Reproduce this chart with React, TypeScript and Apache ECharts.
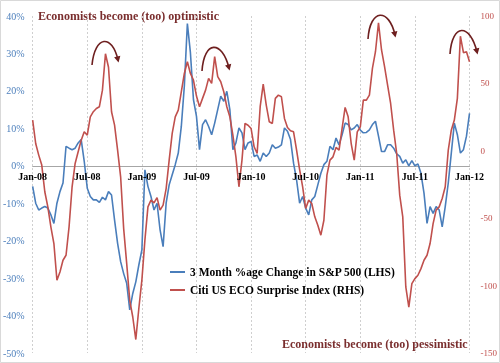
import React, { useEffect, useRef } from "react";
import * as echarts from "echarts";

// Sampling: one value every 1/3 month, starting Jan-08
const STEP = 1 / 3;

const xTickLabels = ["Jan-08", "Jul-08", "Jan-09", "Jul-09", "Jan-10", "Jul-10", "Jan-11", "Jul-11", "Jan-12"];

const sp500Change = [
  -5.5, -10, -11.8, -11.3, -10.9, -11.3, -13.1, -15.4, -10, -6.9,
  -4.6, 5.2, 4.7, 4.3, 4.7, 6.1, 7, 1.2, -6, -8.2,
  -9.1, -9.1, -9.8, -8.4, -9.1, -6.9, -7.8, -14.5, -20.7, -25.6,
  -28.8, -31.4, -38.5, -34.1, -31, -26.5, -22.5, -1.1, -5.5, -8.2,
  -11.8, -10, -17.1, -21.6, -10, -5.1, -2.4, 0.3, 3.4, 10.5,
  21.3, 38, 30.2, 17.7, 13.2, 4.3, 11, 12.3, 10.5, 8.3,
  11.4, 15, 18.6, 17.2, 19.9, 15, 4.3, 6.1, 10.1, 8.8,
  4.3, 6.1, 6.5, 2.5, 2.9, 1.2, 3.4, 2.5, 3.4, 5.6,
  4.7, 5, 5.6, 10.1, 9.2, 7, 0.7, -3.8, -10, -8.2,
  -11.3, -13.1, -9.1, -8.2, -5.1, -2, 0.3, 1.2, 5.2, 4.3,
  7.4, 5.6, 8.3, 11.4, 11, 9.6, 10.1, 11, 9.5, 8.8,
  8.9, 9.6, 11, 11.9, 7.9, 3.8, 3.8, 5.6, 5.6, 4.7,
  3.2, 2.5, 0.7, 1.6, 0, 1.4, 0, 0.5, -2, -7.3,
  -15.4, -10.9, -12.7, -10.9, -11.8, -16.3, -10.9, -4.6, 3.4, 11.4,
  8.3, 3.4, 4.3, 7.9, 14,
];

const citiSurprise = [
  22.8, 5.4, -3.2, -10.6, -30.4, -41.6, -56.4, -68.8, -96, -89.9,
  -81.2, -77.5, -56.4, -26.7, -9.4, -0.7, 7.9, 14.1, 11.6, 25.2,
  29, 31.4, 32.7, 45, 72, 62, 29, 19, 0.5, -19.3,
  -57.7, -83.7, -110.9, -123.3, -140, -117, -96, -66.3, -41.6, -36.6,
  -38.6, -34.7, -44, -40.3, -28, -6.9, 12.9, 25.2, 30.2, 43.8,
  57.4, 66.1, 57.4, 52.5, 40.6, 32.7, 38.9, 45, 53.7, 50,
  69.8, 55, 51.2, 43.8, 32.7, 25.2, 11.6, -4.5, -26.7, -6.9,
  20.3, 19, 16.6, 3, -2, 32.7, 49.5, 33.9, 21.5, 20.3,
  38.9, 41.3, 40.1, 24, 17.3, 14.9, 14.1, 0.5, -13.9, -26.7,
  -42.8, -36.6, -39.1, -49, -55.2, -62.6, -51.5, -18.1, -6.9, -4.5,
  2.5, 0.5, 16.6, 32.2, 25.2, 5.4, -6.9, 14.1, 17.8, 37.6,
  37.6, 41.3, 61.1, 73.5, 95, 74.8, 62.4, 48.8, 35.1, 15.3,
  -2, -32.9, -49, -101, -116, -98.5, -94.8, -92.3, -87.4, -81.2,
  -77.5, -68.8, -54, -44, -41.6, -35.4, -26.7, 0.5, 15.3, 22.8,
  38.9, 85, 72.8, 73.5, 66.1,
];

const SERIES_NAMES = ["3 Month %age Change in S&P 500 (LHS)", "Citi US ECO Surprise Index (RHS)"];

const SERIF = "'Liberation Serif', 'DejaVu Serif', serif";
const BLUE = "#4A7EBB";
const RED = "#C0504D";
const MAROON = "#6E1F1F";

const GRID_TOP = 16;
const GRID_BOTTOM = 10;
const CHART_H = 363;
const LEFT_MIN = -50;
const LEFT_MAX = 40;

function arrow(x0: number, y0: number, c1x: number, c1y: number, c2x: number, c2y: number, x1: number, y1: number) {
  let dx = x1 - c2x;
  let dy = y1 - c2y;
  const len = Math.sqrt(dx * dx + dy * dy) || 1;
  dx /= len;
  dy /= len;
  const tip = [x1 + dx * 2.5, y1 + dy * 2.5];
  const base = [x1 - dx * 3.5, y1 - dy * 3.5];
  const px = -dy;
  const py = dx;
  return [
    {
      type: "bezierCurve",
      shape: { x1: x0, y1: y0, cpx1: c1x, cpy1: c1y, cpx2: c2x, cpy2: c2y, x2: x1, y2: y1 },
      style: { stroke: MAROON, lineWidth: 1.6, fill: null },
      z: 10,
    },
    {
      type: "polygon",
      shape: { points: [tip, [base[0] + px * 3.2, base[1] + py * 3.2], [base[0] - px * 3.2, base[1] - py * 3.2]] },
      style: { fill: MAROON },
      z: 10,
    },
  ];
}

export default function App() {
  const ref = useRef<HTMLDivElement>(null);

  useEffect(() => {
    if (!ref.current) return;
    const chart = echarts.init(ref.current, null, { renderer: "svg" });
    const plotH = CHART_H - GRID_TOP - GRID_BOTTOM;
    // distance from the plot bottom to the left axis' zero line
    const zeroOffset = (plotH * (0 - LEFT_MIN)) / (LEFT_MAX - LEFT_MIN);
    const xLabelStyle = {
      formatter: (v: number) => xTickLabels[Math.round(v / 6)] || "",
      color: "#000",
      fontFamily: SERIF,
      fontWeight: "bold",
      fontSize: 10,
      margin: 6,
    };
    const option = {
      animation: false,
      grid: { left: 32, right: 30, top: GRID_TOP, bottom: GRID_BOTTOM, containLabel: false },
      legend: {
        orient: "vertical",
        left: 165,
        top: 261,
        icon: "rect",
        itemWidth: 15,
        itemHeight: 2,
        itemGap: 6,
        data: SERIES_NAMES,
        textStyle: { fontFamily: SERIF, fontWeight: "bold", fontSize: 11.5, color: "#000" },
      },
      xAxis: [
        {
          type: "value",
          min: 0,
          max: 48,
          interval: 6,
          position: "bottom",
          offset: -zeroOffset,
          axisLine: { onZero: false, lineStyle: { color: "#A6A6A6", width: 1 } },
          axisTick: { show: false },
          axisLabel: { show: false },
          splitLine: { show: true, lineStyle: { type: [2, 2], color: "#CFCFCF", width: 1 } },
        },
        {
          type: "value",
          min: 0,
          max: 48,
          interval: 6,
          position: "bottom",
          offset: -zeroOffset,
          z: 5,
          axisLine: { show: false, onZero: false },
          axisTick: { show: false },
          axisLabel: xLabelStyle,
          splitLine: { show: false },
        },
      ],
      yAxis: [
        {
          type: "value",
          min: LEFT_MIN,
          max: LEFT_MAX,
          interval: 10,
          axisLine: { show: false, onZero: false },
          axisTick: { show: false },
          splitLine: { show: false },
          axisLabel: { formatter: "{value}%", color: "#4F81BD", fontFamily: SERIF, fontSize: 10, margin: 8 },
        },
        {
          type: "value",
          position: "right",
          min: -150,
          max: 100,
          interval: 50,
          axisLine: { show: false, onZero: false },
          axisTick: { show: false },
          splitLine: { show: false },
          axisLabel: { color: RED, fontFamily: SERIF, fontSize: 9, margin: 11, align: "left" },
        },
      ],
      series: [
        {
          name: SERIES_NAMES[0],
          type: "line",
          xAxisIndex: 0,
          yAxisIndex: 0,
          symbol: "none",
          showSymbol: false,
          data: sp500Change.map((v, i) => [i * STEP, v]),
          lineStyle: { color: BLUE, width: 1.6 },
          itemStyle: { color: BLUE },
        },
        {
          name: SERIES_NAMES[1],
          type: "line",
          xAxisIndex: 0,
          yAxisIndex: 1,
          symbol: "none",
          showSymbol: false,
          data: citiSurprise.map((v, i) => [i * STEP, v]),
          lineStyle: { color: RED, width: 1.6 },
          itemStyle: { color: RED },
        },
      ],
      graphic: [
        {
          type: "rect",
          shape: { x: 0.5, y: 0.5, width: 499, height: 362 },
          style: { stroke: "#D9D9D9", fill: null, lineWidth: 1 },
          silent: true,
        },
        {
          type: "text",
          x: 38,
          y: 16,
          style: {
            text: "Economists become (too) optimistic",
            fill: "#7A2E2E",
            font: `bold 12px ${SERIF}`,
            textVerticalAlign: "middle",
          },
        },
        {
          type: "text",
          x: 282,
          y: 344,
          style: {
            text: "Economists become (too) pessimistic",
            fill: "#7A2E2E",
            font: `bold 12px ${SERIF}`,
            textVerticalAlign: "middle",
          },
        },
        ...arrow(92, 65, 95, 35, 112, 34, 118, 60),
        ...arrow(202, 71, 204, 40, 222, 40, 229, 68),
        ...arrow(368, 39, 370, 8, 389, 8, 395, 35),
        ...arrow(450, 54, 452, 23, 470, 23, 477, 52),
      ],
    };
    chart.setOption(option as any);
    return () => chart.dispose();
  }, []);

  return <div ref={ref} style={{ position: "fixed", left: 0, top: 0, width: 500, height: 363 }} />;
}
